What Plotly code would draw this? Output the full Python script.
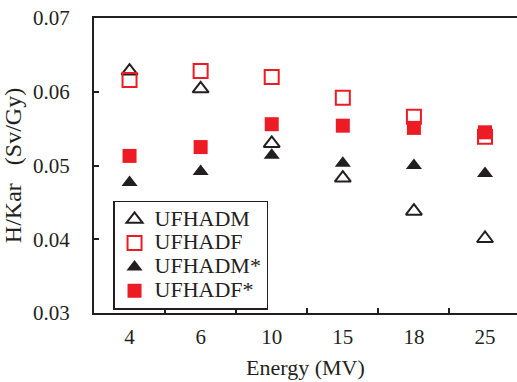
import plotly.graph_objects as go

categories = ["4", "6", "10", "15", "18", "25"]
ufhadm = [0.0628, 0.0604, 0.0530, 0.0483, 0.0438, 0.0401]
ufhadf = [0.0616, 0.0628, 0.0620, 0.0592, 0.0566, 0.0539]
ufhadm_star = [0.0477, 0.0492, 0.0514, 0.0503, 0.0500, 0.0489]
ufhadf_star = [0.0513, 0.0525, 0.0556, 0.0554, 0.0551, 0.0545]
names = ["UFHADM", "UFHADF", "UFHADM*", "UFHADF*"]

RED = "#ed1c24"
INK = "#231f20"

markers = [
    dict(symbol="triangle-up-open", color=INK, size=14, line=dict(width=2, color=INK)),
    dict(symbol="square-open", color=RED, size=14, line=dict(width=2, color=RED)),
    dict(symbol="triangle-up", color=INK, size=14, line=dict(width=0)),
    dict(symbol="square", color=RED, size=14, line=dict(width=0)),
]

fig = go.Figure()
for name, vals, marker in zip(names, [ufhadm, ufhadf, ufhadm_star, ufhadf_star], markers):
    fig.add_trace(go.Scatter(
        x=categories, y=vals, mode="markers",
        name='<span style="font-size:22px">' + name + '</span>',
        marker=marker,
    ))

SERIF = "Liberation Serif, Times New Roman, serif"
tickfont = dict(family=SERIF, size=21, color=INK)

fig.update_layout(
    width=517, height=382,
    margin=dict(l=94, r=0, t=18, b=69),
    paper_bgcolor="white", plot_bgcolor="white",
    font=dict(family=SERIF, size=20, color=INK),
    showlegend=True,
    legend=dict(
        x=0.045, y=0.38, xanchor="left", yanchor="top",
        bgcolor="white", bordercolor=INK, borderwidth=1.5,
        font=dict(family=SERIF, size=16, color=INK),
        tracegroupgap=0, itemwidth=30,
    ),
    xaxis=dict(
        type="category", range=[-0.5, 5.45], automargin=False,
        showline=True, linecolor=INK, linewidth=2, mirror=True,
        ticks="inside", ticklen=5, tickwidth=2, tickcolor=INK,
        tickson="boundaries", showgrid=False, zeroline=False,
        ticklabelstandoff=4, tickfont=tickfont,
    ),
    yaxis=dict(
        range=[0.03, 0.07], dtick=0.01, tickformat=".2f", automargin=False,
        showline=True, linecolor=INK, linewidth=2,
        ticks="inside", ticklen=5, tickwidth=1.5, tickcolor=INK,
        showgrid=False, zeroline=False,
        ticklabelstandoff=18, tickfont=tickfont,
        title=dict(text="H/Kar\u00a0\u00a0\u00a0(Sv/Gy)", standoff=8,
                   font=dict(family=SERIF, size=24, color=INK)),
    ),
    annotations=[dict(
        text="Energy (MV)", xref="paper", yref="paper", x=0.5, y=0,
        xanchor="center", yanchor="top", yshift=-40, showarrow=False,
        font=dict(family=SERIF, size=22, color=INK),
    )],
)

fig.write_html("out.html")
